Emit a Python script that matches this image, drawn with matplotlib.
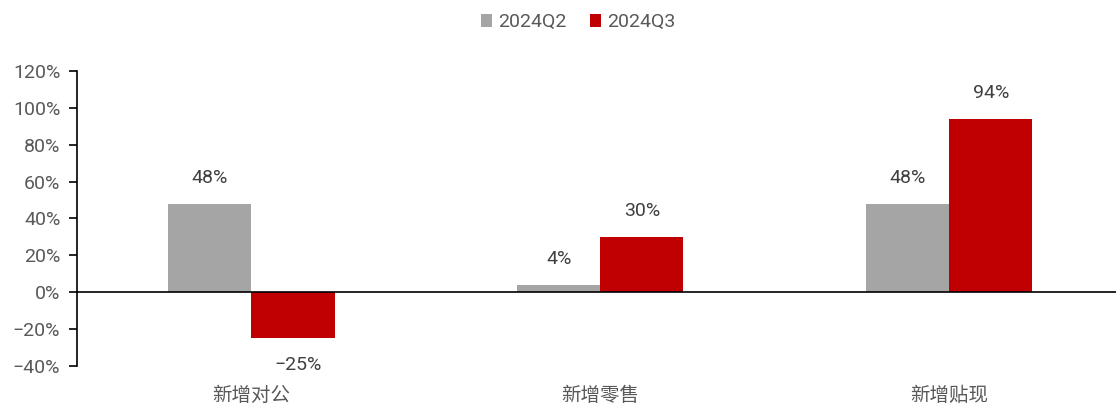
import matplotlib
matplotlib.use("Agg")
import matplotlib.pyplot as plt
import numpy as np
from matplotlib.ticker import FuncFormatter

categories = ["新增对公", "新增零售", "新增贴现"]
series_names = ["2024Q2", "2024Q3"]
q2_values = [48, 4, 48]
q3_values = [-25, 30, 94]
y_ticks = [-40, -20, 0, 20, 40, 60, 80, 100, 120]

GRAY = "#A5A5A5"
RED = "#C00000"
TEXT = "#595959"

plt.rcParams["font.family"] = ["Roboto", "Noto Sans CJK SC", "DejaVu Sans"]

fig = plt.figure(figsize=(11.16, 4.08), dpi=100)
ax = fig.add_axes([0.069, 0.103, 0.938, 0.723])

x = np.arange(len(categories))
w = 0.238
bars_q2 = ax.bar(x - w / 2, q2_values, w, color=GRAY, label=series_names[0])
bars_q3 = ax.bar(x + w / 2, q3_values, w, color=RED, label=series_names[1])

for bars, vals in [(bars_q2, q2_values), (bars_q3, q3_values)]:
    for b, v in zip(bars, vals):
        cx = b.get_x() + b.get_width() / 2
        if v >= 0:
            ax.annotate(f"{v}%", (cx, v), xytext=(0, 12), textcoords="offset points",
                        ha="center", va="bottom", fontsize=14, color="#404040")
        else:
            ax.annotate(f"−{abs(v)}%", (cx, v), xytext=(4, -13), textcoords="offset points",
                        ha="center", va="top", fontsize=14, color="#404040")

ax.set_xlim(-0.5, len(categories) - 0.5)
ax.set_ylim(-40, 120)
ax.set_yticks(y_ticks)
ax.yaxis.set_major_formatter(FuncFormatter(lambda v, _: f"{v:.0f}%".replace("-", "−")))
ax.tick_params(axis="y", direction="out", length=6, width=1.2, colors="black",
               labelcolor=TEXT, labelsize=14, pad=6)
ax.tick_params(axis="x", length=0, labelsize=14, labelcolor=TEXT, pad=14)
ax.set_xticks(x)
ax.set_xticklabels(categories, family=["Noto Sans CJK SC"])

for side in ["top", "right", "bottom"]:
    ax.spines[side].set_visible(False)
ax.spines["left"].set_linewidth(1.2)
ax.axhline(0, color="black", lw=1.2, clip_on=False)

fig.legend(handles=[bars_q2, bars_q3], labels=series_names, loc="center",
           bbox_to_anchor=(0.518, 0.945), ncol=2, frameon=False, fontsize=14,
           labelcolor=TEXT, handlelength=0.6, handleheight=0.6, handletextpad=0.3,
           columnspacing=1.2)

fig.savefig("out.png", dpi=100)
